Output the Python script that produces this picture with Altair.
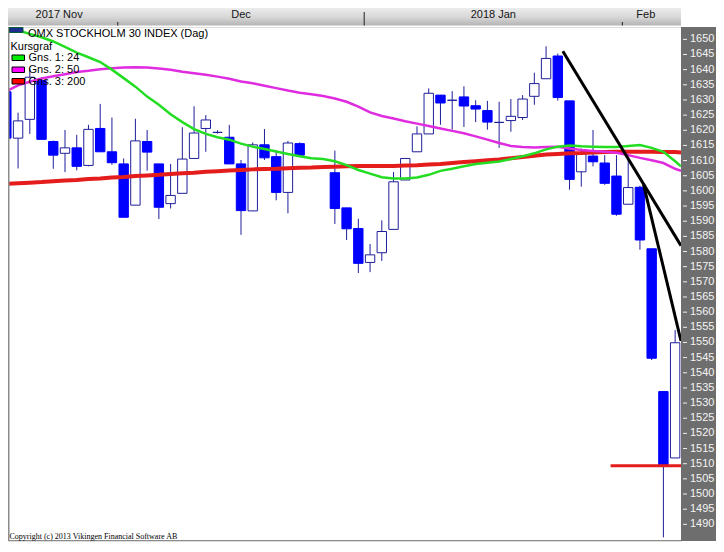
import altair as alt
import pandas as pd

# ---------------- data ----------------
# candle slot index (trading-day slot; 25 and 26 are empty holiday slots)
slots = [-1, 0, 1, 2, 3, 4, 5, 6, 7, 8, 9, 10, 11, 12, 13, 14, 15, 16, 17, 18, 19,
         20, 21, 22, 23, 24, 27, 28, 29, 30, 31, 32, 33, 34, 35, 36, 37, 38, 39,
         40, 41, 42, 43, 44, 45, 46, 47, 48, 49, 50, 51, 52, 53, 54, 55, 56]
opens = [1632.7, 1617.4, 1623.6, 1636.4, 1616.3, 1612.4, 1614.2, 1608.4, 1620.6, 1612.9,
         1608.9, 1595.3, 1616.3, 1608.9, 1595.8, 1599.2, 1610.7, 1620.6, 1619.3, 1617.7,
         1608.9, 1593.4, 1615.2, 1611.3, 1599.5, 1615.6, 1606.0, 1594.4, 1587.6, 1576.4,
         1579.6, 1587.3, 1603.6, 1612.9, 1618.8, 1631.6, 1629.9, 1631.0, 1628.1, 1626.5,
         1622.6, 1623.2, 1624.2, 1631.2, 1637.0, 1644.5, 1629.7, 1606.3, 1611.5, 1609.2,
         1604.9, 1595.6, 1601.2, 1580.9, 1533.8, 1511.9]
highs = [1634.0, 1625.8, 1640.2, 1637.5, 1616.6, 1620.1, 1618.5, 1621.8, 1628.7, 1624.2,
         1610.7, 1623.8, 1620.1, 1608.9, 1608.9, 1621.0, 1627.9, 1625.0, 1620.0, 1621.8,
         1610.2, 1616.0, 1620.4, 1613.3, 1616.5, 1616.0, 1613.3, 1594.4, 1590.8, 1582.5,
         1590.3, 1606.2, 1610.7, 1621.3, 1633.8, 1631.6, 1632.9, 1634.5, 1629.9, 1629.7,
         1629.4, 1630.3, 1631.6, 1639.0, 1647.7, 1645.3, 1629.7, 1614.0, 1620.1, 1611.8,
         1611.8, 1610.8, 1601.7, 1580.9, 1533.8, 1554.1]
lows = [1616.0, 1607.4, 1618.8, 1617.0, 1607.3, 1606.2, 1606.8, 1608.1, 1612.9, 1608.6,
        1591.3, 1595.3, 1606.7, 1590.7, 1594.2, 1599.2, 1610.7, 1612.9, 1618.9, 1608.9,
        1585.5, 1593.4, 1610.2, 1596.9, 1592.6, 1611.3, 1589.1, 1583.8, 1572.9, 1573.2,
        1576.9, 1587.3, 1603.6, 1612.9, 1618.8, 1621.8, 1620.2, 1621.1, 1622.7, 1620.2,
        1614.2, 1619.5, 1623.4, 1628.4, 1637.0, 1629.8, 1600.4, 1601.4, 1608.1, 1602.0,
        1591.8, 1595.6, 1580.6, 1544.2, 1485.7, 1511.9]
closes = [1617.4, 1623.1, 1637.5, 1617.0, 1611.8, 1614.2, 1608.1, 1620.3, 1612.9, 1609.3,
          1591.3, 1616.5, 1612.8, 1594.6, 1598.5, 1610.5, 1619.1, 1623.4, 1619.3, 1608.9,
          1593.5, 1615.2, 1610.9, 1599.5, 1615.8, 1611.8, 1594.2, 1587.5, 1576.1, 1578.9,
          1586.6, 1603.0, 1610.7, 1618.8, 1632.2, 1629.0, 1629.9, 1628.0, 1627.0, 1622.7,
          1622.6, 1624.6, 1630.3, 1635.4, 1643.7, 1630.8, 1603.8, 1612.4, 1609.6, 1602.5,
          1592.3, 1601.1, 1583.8, 1544.8, 1509.6, 1549.9]

# moving averages, read at every slot (last point = right edge of the plot)
ma_slots = list(range(-1, 57)) + [56.5]
ma24 = [1654.4, 1652.9, 1651.8, 1650.7, 1649.3, 1647.5, 1645.6, 1644.1, 1642.5, 1640.0,
        1637.2, 1634.4, 1631.1, 1628.4, 1625.3, 1622.7, 1620.4, 1618.8, 1617.7, 1616.9,
        1615.6, 1614.6, 1613.8, 1613.0, 1612.2, 1611.4, 1610.8, 1610.5, 1609.8, 1608.5,
        1606.9, 1605.7, 1604.5, 1604.1, 1604.1, 1604.4, 1605.3, 1606.6, 1607.3, 1608.1,
        1608.9, 1609.3, 1609.7, 1610.5, 1611.4, 1612.4, 1613.7, 1614.6, 1615.0, 1614.7,
        1614.6, 1614.5, 1614.5, 1614.8, 1615.1, 1614.2, 1612.9, 1609.8, 1608.1]
ma50 = [1632.9, 1634.8, 1636.0, 1637.1, 1637.8, 1638.5, 1639.2, 1639.6, 1640.1, 1640.5,
        1640.7, 1640.8, 1640.7, 1640.4, 1640.0, 1639.3, 1638.8, 1638.3, 1637.7, 1637.0,
        1636.1, 1635.5, 1634.7, 1633.9, 1633.1, 1632.4, 1631.9, 1631.3, 1630.5, 1629.4,
        1627.8, 1625.9, 1624.7, 1623.9, 1623.0, 1622.2, 1621.4, 1620.6, 1619.8, 1619.0,
        1618.0, 1616.9, 1615.8, 1614.8, 1614.5, 1614.3, 1614.5, 1614.6, 1614.0, 1613.5,
        1613.2, 1612.9, 1612.6, 1611.8, 1610.9, 1610.1, 1609.2, 1607.3, 1606.6]
ma200 = [1602.3, 1602.5, 1602.7, 1602.9, 1603.2, 1603.4, 1603.6, 1603.9, 1604.1, 1604.4,
         1604.6, 1604.9, 1605.1, 1605.3, 1605.6, 1605.8, 1606.0, 1606.3, 1606.5, 1606.7,
         1606.9, 1607.1, 1607.2, 1607.3, 1607.5, 1607.6, 1607.7, 1607.9, 1608.0, 1608.1,
         1608.2, 1608.2, 1608.2, 1608.2, 1608.4, 1608.5, 1608.7, 1608.9, 1609.2, 1609.5,
         1609.8, 1610.1, 1610.4, 1610.8, 1611.2, 1611.6, 1612.0, 1612.2, 1612.4, 1612.5,
         1612.7, 1612.8, 1612.9, 1612.9, 1612.9, 1612.9, 1612.8, 1612.8, 1612.7]

# drawn trend lines and support line
trend_seg = ["t1", "t1", "t2", "t2"]
trend_x = [46.43, 56.5, 53.31, 56.5]
trend_v = [1646.1, 1581.9, 1602.1, 1550.5]
support_x = [50.5, 56.5]
support_v = [1509.3, 1509.3]

# date header
month_labels = ["2017 Nov", "Dec", "2018 Jan", "Feb"]
month_label_pos = [3.5, 19.0, 40.5, 53.5]
month_breaks = [8.5, 51.5]
year_breaks = [29.5]

y_ticks = list(range(1490, 1655, 5))

# ---------------- chart ----------------
W, H = 673, 514
NAVY = "#1e1e9a"
BLUE = "#0000ff"
GREEN = "#22dd22"
MAGENTA = "#e02ce0"
RED = "#e41c1c"
FONT = "Liberation Sans"

xs = alt.Scale(domain=[-0.858, 56.5], nice=False, zero=False)
ys = alt.Scale(domain=[1484.5, 1654.07], nice=False, zero=False)

candles = pd.DataFrame(dict(slot=slots, open=opens, high=highs, low=lows, close=closes))
ma = pd.DataFrame(dict(slot=ma_slots, ma24=ma24, ma50=ma50, ma200=ma200))
trend = pd.DataFrame(dict(seg=trend_seg, slot=trend_x, v=trend_v))
support = pd.DataFrame(dict(slot=support_x, v=support_v))
months = pd.DataFrame(dict(label=month_labels, slot=month_label_pos))
mbreaks = pd.DataFrame(dict(slot=month_breaks))
ybreaks = pd.DataFrame(dict(slot=year_breaks))
ticks_df = pd.DataFrame(dict(v=y_ticks))
one = pd.DataFrame({"a": [0]})

# decorative frame
top_band = alt.Chart(one).mark_rect(
    color=alt.LinearGradient(gradient="linear",
                             stops=[alt.GradientStop(color="#ececec", offset=0),
                                    alt.GradientStop(color="#d6d6d6", offset=0.55),
                                    alt.GradientStop(color="#b4b4b4", offset=1)],
                             x1=0, x2=0, y1=0, y2=1)
).encode(x=alt.value(0), x2=alt.value(W), y=alt.value(-19), y2=alt.value(-1.5))

right_band = alt.Chart(one).mark_rect(color="#6e6e6e").encode(
    x=alt.value(W), x2=alt.value(W + 35), y=alt.value(0), y2=alt.value(H))

left_border = alt.Chart(one).mark_rule(color="#8c8c8c", strokeWidth=2).encode(
    x=alt.value(0.5), y=alt.value(0), y2=alt.value(H))
bottom_border = alt.Chart(one).mark_rule(color="#8c8c8c", strokeWidth=1).encode(
    x=alt.value(0), x2=alt.value(W), y=alt.value(H - 0.5))

month_ticks = alt.Chart(mbreaks).mark_rule(color="#202020", strokeWidth=1).encode(
    x=alt.X("slot:Q", scale=xs, axis=None), y=alt.value(-5), y2=alt.value(-1.5))
year_ticks = alt.Chart(ybreaks).mark_rule(color="#202020", strokeWidth=1).encode(
    x=alt.X("slot:Q", scale=xs, axis=None), y=alt.value(-15), y2=alt.value(-1.5))
month_text = alt.Chart(months).mark_text(font=FONT, fontSize=11, color="#151515",
                                         align="center", baseline="middle").encode(
    x=alt.X("slot:Q", scale=xs, axis=None), y=alt.value(-12), text="label:N")

# price scale on the right band (ticks + labels through the y scale)
price_ticks = alt.Chart(ticks_df).mark_rule(color="#f0f0f0", strokeWidth=1).encode(
    x=alt.value(W + 2), x2=alt.value(W + 6),
    y=alt.Y("v:Q", scale=ys, axis=None))
price_labels = alt.Chart(ticks_df).mark_text(
    font=FONT, fontSize=11, color="#f4f4f4", align="left", baseline="middle"
).encode(x=alt.value(W + 9), y=alt.Y("v:Q", scale=ys, axis=None), text="v:Q")

# candles
wicks = alt.Chart(candles).mark_rule(color=NAVY, strokeWidth=1, clip=True).encode(
    x=alt.X("slot:Q", scale=xs, axis=None),
    y=alt.Y("low:Q", scale=ys, axis=None),
    y2="high:Q")

is_up = "datum.close >= datum.open"
bodies = alt.Chart(candles).transform_calculate(
    lo="datum.slot - 0.4", hi="datum.slot + 0.4"
).mark_rect(strokeWidth=1, clip=True).encode(
    x=alt.X("lo:Q", scale=xs, axis=None), x2="hi:Q",
    y=alt.Y("open:Q", scale=ys, axis=None), y2="close:Q",
    fill=alt.condition(is_up, alt.value("white"), alt.value(BLUE)),
    stroke=alt.condition(is_up, alt.value(NAVY), alt.value(BLUE)))

def ma_line(field, color, width):
    return alt.Chart(ma).mark_line(color=color, strokeWidth=width, clip=True).encode(
        x=alt.X("slot:Q", scale=xs, axis=None),
        y=alt.Y(f"{field}:Q", scale=ys, axis=None))

l200 = ma_line("ma200", RED, 4)
l50 = ma_line("ma50", MAGENTA, 2.5)
l24 = ma_line("ma24", GREEN, 2.5)

trend_lines = alt.Chart(trend).mark_line(color="black", strokeWidth=3, clip=True).encode(
    x=alt.X("slot:Q", scale=xs, axis=None),
    y=alt.Y("v:Q", scale=ys, axis=None), detail="seg:N")

support_line = alt.Chart(support).mark_line(color=RED, strokeWidth=3, clip=True).encode(
    x=alt.X("slot:Q", scale=xs, axis=None),
    y=alt.Y("v:Q", scale=ys, axis=None))

# legend block (top-left)
def txt(s, x, y, size=11, font=FONT):
    return alt.Chart(one).mark_text(text=s, font=font, fontSize=size, color="black",
                                    align="left", baseline="middle").encode(
        x=alt.value(x), y=alt.value(y))

def swatch(color, y):
    return alt.Chart(one).mark_rect(fill=color, stroke="black", strokeWidth=1).encode(
        x=alt.value(4), x2=alt.value(16.5), y=alt.value(y), y2=alt.value(y + 5.5))

icon = alt.Chart(one).mark_rect(fill="#1c2c8c", stroke="#0a5a3a", strokeWidth=1).encode(
    x=alt.value(1.5), x2=alt.value(15), y=alt.value(0.5), y2=alt.value(5.5))

legend = [
    icon,
    txt("OMX STOCKHOLM 30 INDEX (Dag)", 20, 6.5),
    txt("Kursgraf", 2.5, 19.5),
    swatch("#00ee00", 28), txt("Gns. 1: 24", 20.5, 31),
    swatch("#ff00ff", 40), txt("Gns. 2: 50", 20.5, 43),
    swatch("#ff0000", 51.5), txt("Gns. 3: 200", 20.5, 54.5),
    txt("Copyright (c) 2013 Vikingen Financial Software AB", 1.5, 510, size=8,
        font="Liberation Serif"),
]

chart = alt.layer(
    top_band, right_band, month_ticks, year_ticks, month_text,
    wicks, bodies, l200, l50, l24, trend_lines, support_line,
    left_border, bottom_border, price_ticks, price_labels, *legend
).properties(
    width=W, height=H,
    padding={"left": 0, "top": 19, "right": 35, "bottom": 3},
    autosize=alt.AutoSizeParams(type="none"),
    background="white",
).configure_view(stroke=None).configure(font=FONT)

chart.save("out.html", embed_options={"renderer": "svg", "actions": False})
